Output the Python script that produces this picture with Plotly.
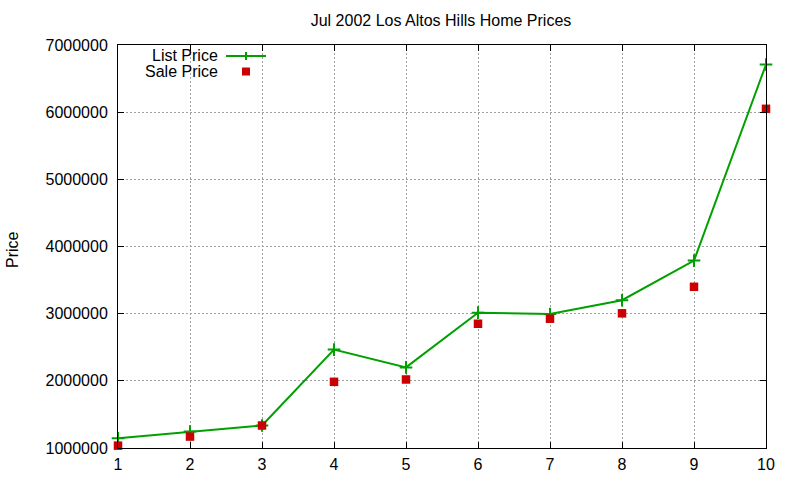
import plotly.graph_objects as go

x_vals = [1, 2, 3, 4, 5, 6, 7, 8, 9, 10]
list_price = [1145000, 1245000, 1335000, 2465000, 2200000, 3015000, 2995000, 3200000, 3790000, 6710000]
sale_price = [1035000, 1170000, 1335000, 1985000, 2020000, 2850000, 2925000, 3005000, 3400000, 6050000]
y_ticks = [1000000, 2000000, 3000000, 4000000, 5000000, 6000000, 7000000]
x_ticks = [1, 2, 3, 4, 5, 6, 7, 8, 9, 10]

GREEN = "#00A000"
RED = "#CC0000"
FONT = "Liberation Sans, Arial, sans-serif"

fig = go.Figure()
fig.add_trace(go.Scatter(
    x=x_vals, y=list_price, mode="lines+markers", name="List Price",
    line=dict(color=GREEN, width=2),
    marker=dict(symbol="cross-thin", size=9, line=dict(color=GREEN, width=2), color=GREEN),
    showlegend=False, cliponaxis=False,
))
fig.add_trace(go.Scatter(
    x=x_vals, y=sale_price, mode="markers", name="Sale Price",
    marker=dict(symbol="square", size=8.5, color=RED),
    showlegend=False, cliponaxis=False,
))

W, H = 800, 480
L, T = 118, 45
pw, ph = 648, 403
R, B = W - L - pw, H - T - ph

def px(xp):
    return (xp - L) / pw

def py(yp):
    return (T + ph - yp) / ph

ax_common = dict(
    showline=True, linecolor="black", linewidth=1, mirror="allticks",
    ticks="inside", ticklen=6, tickcolor="black",
    showgrid=True, gridcolor="#A0A0A0", griddash="2px,2px", gridwidth=1,
    zeroline=False, automargin=False,
    tickfont=dict(family=FONT, size=16, color="black"),
)

fig.update_layout(
    width=W, height=H,
    margin=dict(l=L, r=R, t=T, b=B, autoexpand=False),
    plot_bgcolor="white", paper_bgcolor="white",
    title=dict(text="Jul 2002 Los Altos Hills Home Prices", xref="container", x=441 / W,
               xanchor="center", yref="container", y=1 - 20 / H, yanchor="middle",
               font=dict(family=FONT, size=16, color="black")),
    xaxis=dict(range=[1, 10], tickvals=x_ticks, ticktext=[str(v) for v in x_ticks],
               ticklabelstandoff=2, **ax_common),
    yaxis=dict(range=[1000000, 7000000], tickvals=y_ticks, ticktext=[str(v) for v in y_ticks],
               ticklabelstandoff=6, **ax_common),
    showlegend=False,
)

fig.add_annotation(text="Price", xref="paper", yref="paper", x=px(12), y=py(250),
                   textangle=-90, showarrow=False, xanchor="center", yanchor="middle",
                   font=dict(family=FONT, size=16, color="black"))

# legend (gnuplot style: text left, sample right)
fig.add_annotation(text="List Price", xref="paper", yref="paper", x=px(219), y=py(55),
                   showarrow=False, xanchor="right", yanchor="middle", borderpad=0,
                   font=dict(family=FONT, size=16, color="black"))
fig.add_annotation(text="Sale Price", xref="paper", yref="paper", x=px(219), y=py(71),
                   showarrow=False, xanchor="right", yanchor="middle", borderpad=0,
                   font=dict(family=FONT, size=16, color="black"))
fig.add_shape(type="line", xref="paper", yref="paper", x0=px(226), x1=px(266), y0=py(56), y1=py(56),
              line=dict(color=GREEN, width=2))
fig.add_shape(type="line", xref="paper", yref="paper", x0=px(246), x1=px(246), y0=py(52), y1=py(60),
              line=dict(color=GREEN, width=2))
fig.add_shape(type="rect", xref="paper", yref="paper", x0=px(242), x1=px(250), y0=py(67.5), y1=py(75.5),
              line=dict(width=0), fillcolor=RED)

fig.write_html("out.html", config={"displayModeBar": False},
               post_script="document.body.style.margin='0';document.body.style.overflow='hidden';")
